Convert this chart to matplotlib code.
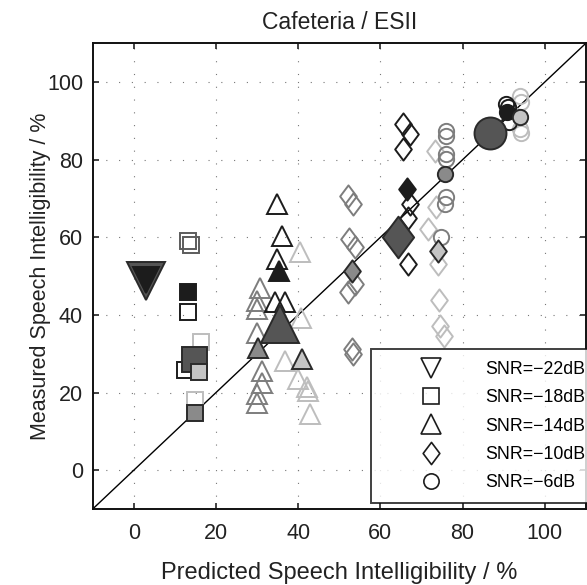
import matplotlib
matplotlib.use("Agg")
import matplotlib.pyplot as plt
from matplotlib.lines import Line2D
from matplotlib.path import Path

plt.rcParams['font.family'] = ['Liberation Sans', 'DejaVu Sans']

# ---- data (predicted %, measured %) ----
# open markers, one list pair per listener group / SNR
sq_black_x = [13.2, 12.5]
sq_black_y = [40.8, 25.7]
sq_gray_x = [13.3, 13.8]
sq_gray_y = [59.0, 58.1]
sq_light_x = [16.4, 15.0]
sq_light_y = [32.9, 18.2]

tri_black_x = [34.8, 36.0, 34.8, 34.4, 36.7]
tri_black_y = [68.5, 60.4, 54.4, 43.4, 43.4]
tri_gray_x = [30.7, 29.9, 29.9, 29.9, 31.1, 31.1, 29.9, 29.9]
tri_gray_y = [47.0, 43.6, 41.5, 35.4, 25.5, 22.5, 19.5, 17.4]
tri_light_x = [40.5, 40.7, 36.8, 39.9, 42.1, 42.5, 42.9]
tri_light_y = [56.3, 39.1, 28.1, 23.4, 21.4, 20.4, 14.4]

dia_black_x = [65.5, 67.2, 65.5, 67.2, 66.7, 66.7]
dia_black_y = [89.2, 86.6, 82.8, 68.6, 65.1, 53.1]
dia_gray_x = [52.2, 53.4, 52.3, 53.8, 53.8, 52.2, 53.0, 53.4]
dia_gray_y = [70.7, 68.6, 59.5, 57.4, 47.9, 45.8, 31.1, 29.9]
dia_light_x = [73.2, 73.6, 71.6, 74.0, 74.3, 74.4, 75.6]
dia_light_y = [82.3, 67.7, 62.1, 53.1, 43.8, 37.2, 34.6]

circ_black_x = [90.6, 91.0, 91.4]
circ_black_y = [94.4, 93.5, 89.6]
circ_gray_x = [76.0, 76.0, 76.0, 76.0, 76.0, 75.7, 74.8]
circ_gray_y = [87.5, 86.2, 81.5, 80.2, 70.3, 68.6, 60.0]
circ_light_x = [93.9, 94.2, 93.9, 94.2]
circ_light_y = [96.5, 94.8, 87.9, 87.0]

# group means per SNR (-22, -18, -14, -10, -6 dB)
mean_black_x = [3.0, 13.2, 35.4, 66.6, 90.9]
mean_black_y = [49.0, 45.8, 51.2, 72.4, 92.2]
mean_gray_x = [14.8, 30.3, 53.0, 75.8]
mean_gray_y = [14.8, 31.6, 51.4, 76.3]
mean_light_x = [15.8, 40.9, 74.0, 93.9]
mean_light_y = [25.4, 28.6, 56.5, 90.9]
# overall means per SNR
mean_all_x = [3.0, 14.6, 35.6, 64.4, 86.8]
mean_all_y = [48.8, 28.7, 37.6, 60.0, 86.8]

snr_labels = ['SNR=\u221222dB', 'SNR=\u221218dB', 'SNR=\u221214dB',
              'SNR=\u221210dB', 'SNR=\u22126dB']

# ---- styles ----
BLACK = '#1c1c1c'
GRAY = '#7d7d7d'
DKGRAY = '#5c5c5c'
LIGHT = '#bdbdbd'
DARK = '#555555'
TXT = '#222222'

diamond = Path([(0, 1), (0.75, 0), (0, -1), (-0.75, 0), (0, 1)],
               [Path.MOVETO, Path.LINETO, Path.LINETO, Path.LINETO, Path.CLOSEPOLY])

shapes = ['v', 's', '^', diamond, 'o']
small = {'v': 14, 's': 11, '^': 14, 'o': 11}
big = {'v': 27, 's': 18, '^': 27, 'o': 23}
small_d, big_d = 16, 30

fig = plt.figure(figsize=(5.87, 5.85), dpi=100)
ax = fig.add_axes([0.158, 0.130, 0.840, 0.796])

ax.plot([-10, 110], [-10, 110], color='black', lw=1.0, zorder=2)


def msize(m, table, dsize):
    return dsize if m is diamond else table[m]


def open_pts(xs, ys, m, color):
    ax.plot(xs, ys, ls='none', marker=m, ms=msize(m, small, small_d),
            mfc='none', mec=color, mew=1.4, zorder=3)


groups = [(sq_black_x, sq_black_y, sq_gray_x, sq_gray_y, sq_light_x, sq_light_y, DKGRAY),
          (tri_black_x, tri_black_y, tri_gray_x, tri_gray_y, tri_light_x, tri_light_y, GRAY),
          (dia_black_x, dia_black_y, dia_gray_x, dia_gray_y, dia_light_x, dia_light_y, GRAY),
          (circ_black_x, circ_black_y, circ_gray_x, circ_gray_y, circ_light_x, circ_light_y, GRAY)]
for (bx, by, gx, gy, lx, ly, gcol), m in zip(groups, shapes[1:]):
    open_pts(lx, ly, m, LIGHT)
    open_pts(gx, gy, m, gcol)
    open_pts(bx, by, m, BLACK)

# overall means (big, dark gray)
for x, y, m in zip(mean_all_x, mean_all_y, shapes):
    ax.plot(x, y, ls='none', marker=m, ms=msize(m, big, big_d),
            mfc=DARK, mec='#2a2a2a', mew=1.4, zorder=4)

# group means (small, filled)
for x, y, m in zip(mean_black_x, mean_black_y, shapes):
    s = 19 if m == 'v' else msize(m, small, small_d)
    ax.plot(x, y, ls='none', marker=m, ms=s, mfc=BLACK, mec=BLACK, mew=1.4, zorder=5)
for x, y, m in zip(mean_gray_x, mean_gray_y, shapes[1:]):
    ax.plot(x, y, ls='none', marker=m, ms=msize(m, small, small_d),
            mfc='#8a8a8a', mec='#2a2a2a', mew=1.4, zorder=5)
for x, y, m in zip(mean_light_x, mean_light_y, shapes[1:]):
    ax.plot(x, y, ls='none', marker=m, ms=msize(m, small, small_d),
            mfc='#c4c4c4', mec='#2a2a2a', mew=1.4, zorder=5)

ax.set_xlim(-10, 110)
ax.set_ylim(-10, 110)
ax.set_xticks([0, 20, 40, 60, 80, 100])
ax.set_yticks([0, 20, 40, 60, 80, 100])
ax.grid(True, color='#777777', lw=0.8, ls=(0, (1, 10.5)))
ax.tick_params(direction='in', top=True, right=True, length=4, width=1.2,
               labelsize=15.5, colors=TXT)
ax.tick_params(axis='x', pad=10)
ax.tick_params(axis='y', pad=7)
for sp in ax.spines.values():
    sp.set_linewidth(1.4)
    sp.set_color('#111111')

ax.set_title('Cafeteria / ESII', fontsize=16.5, color=TXT, pad=10)
ax.set_xlabel('Predicted Speech Intelligibility / %', fontsize=17, color=TXT, labelpad=13)
ax.set_ylabel('Measured Speech Intelligibility / %', fontsize=15.5, color=TXT, labelpad=-3)

handles = [Line2D([], [], ls='none', marker=m, ms=msize(m, small, small_d),
                  mfc='none', mec=BLACK, mew=1.2) for m in shapes]
leg = ax.legend(handles, snr_labels, loc='lower left', bbox_to_anchor=(0.565, 0.013),
                fontsize=12.8, frameon=True, fancybox=False, borderpad=0.65,
                handlelength=5.4, handletextpad=0.35, labelspacing=0.64,
                borderaxespad=0)
leg.get_frame().set_edgecolor('#111111')
leg.get_frame().set_linewidth(1.4)
leg.set_zorder(10)

fig.savefig('out.png', dpi=100)
